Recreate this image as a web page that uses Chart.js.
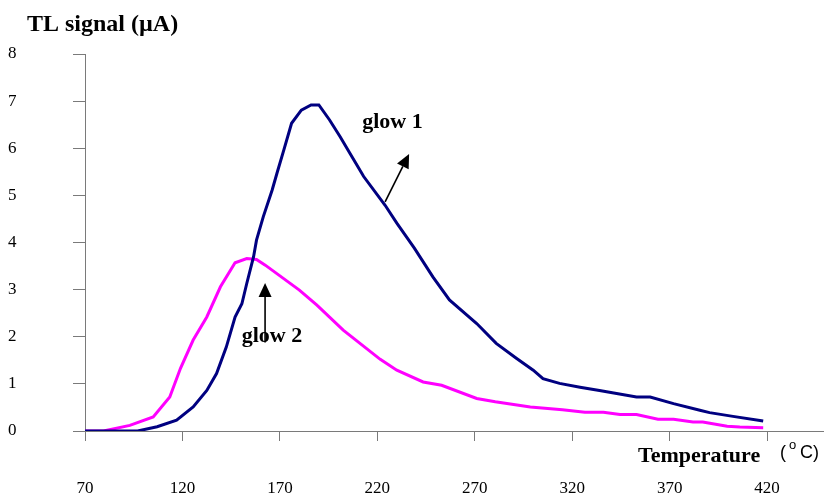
<!DOCTYPE html>
<html>
<head>
<meta charset="utf-8">
<script src="https://cdn.jsdelivr.net/npm/chart.js@4.4.1/dist/chart.umd.min.js"></script>
<style>
  html, body { margin: 0; padding: 0; background: #fff; }
  #wrap { width: 824px; height: 496px; position: relative; }
</style>
</head>
<body>
<div id="wrap"><canvas id="tl"></canvas></div>
<script>
// temperatures (°C) and TL signal (µA)
const TEMP_GLOW1 = [70, 85, 97, 107, 117, 125.5, 132.5, 137.5, 142.5, 147, 150.5, 153, 156.5, 158, 161.5,
  166, 168.5, 172, 176, 181, 186, 190, 195.5, 201, 206, 213, 224, 230, 239, 248.5, 257, 271, 281,
  291.5, 300, 305, 313.5, 324, 334, 353, 360, 372, 385.5, 390.5, 402.5, 418];
const SIGNAL_GLOW1 = [0, 0, 0, 0.09, 0.23, 0.51, 0.86, 1.22, 1.78, 2.42, 2.70, 3.13, 3.70, 4.05, 4.55,
  5.11, 5.47, 5.96, 6.53, 6.81, 6.92, 6.92, 6.60, 6.24, 5.89, 5.40, 4.79, 4.41, 3.88, 3.27, 2.78, 2.28, 1.86,
  1.54, 1.29, 1.11, 1.01, 0.93, 0.86, 0.72, 0.72, 0.58, 0.44, 0.39, 0.31, 0.21];

const TEMP_GLOW2 = [70, 79.5, 93, 105, 113.5, 119, 125.5, 132.5, 139.5, 147, 153, 158, 162.5, 180, 189,
  202.5, 221.5, 230, 243.5, 253, 271, 280.5, 298.5, 315, 326.5, 336, 344.5, 353, 364, 372, 382, 387,
  399.5, 406, 418];
const SIGNAL_GLOW2 = [0, 0, 0.12, 0.30, 0.72, 1.33, 1.93, 2.42, 3.06, 3.57, 3.66, 3.64, 3.52, 2.99, 2.67,
  2.14, 1.52, 1.29, 1.04, 0.97, 0.69, 0.62, 0.51, 0.45, 0.40, 0.40, 0.35, 0.35, 0.25, 0.25, 0.19, 0.19,
  0.10, 0.085, 0.07];

const X_TICKS = [70, 120, 170, 220, 270, 320, 370, 420];
const Y_TICKS = [0, 1, 2, 3, 4, 5, 6, 7, 8];

const SERIF = "'Liberation Serif', 'Times New Roman', serif";
const SANS = "'Liberation Sans', Arial, sans-serif";
const AXIS_GREY = '#7a7a7a';

const toPoints = (xs, ys) => xs.map((x, i) => ({ x, y: ys[i] }));

// arrow: from a point on the curve toward the label, in data units
const ARROWS = [
  { from: [224, 4.86], to: [236.3, 5.88] },
  { from: [162.4, 1.88], to: [162.4, 3.14] },
];
const LABELS = [
  { text: 'glow 1', at: [212.2, 6.56] },
  { text: 'glow 2', at: [150.4, 2.0] },
];

const annotations = {
  id: 'annotations',
  afterDraw(chart) {
    const { ctx, scales: { x, y } } = chart;
    ctx.save();
    ctx.fillStyle = '#000';
    ctx.strokeStyle = '#000';

    // title & axis captions
    ctx.textBaseline = 'alphabetic';
    ctx.textAlign = 'left';
    ctx.font = `bold 24px ${SERIF}`;
    ctx.fillText('TL signal (µA)', 27, 31);
    ctx.font = `bold 22px ${SERIF}`;
    ctx.fillText('Temperature', 638, 462);
    ctx.font = `18px ${SANS}`;
    ctx.fillText('(', 780, 458);
    ctx.fillText('C)', 800, 458);
    ctx.font = `13px ${SANS}`;
    ctx.fillText('o', 789, 449);

    // glow labels
    ctx.font = `bold 22px ${SERIF}`;
    ctx.textBaseline = 'middle';
    for (const l of LABELS) {
      ctx.fillText(l.text, x.getPixelForValue(l.at[0]), y.getPixelForValue(l.at[1]));
    }

    // arrows
    ctx.lineWidth = 1.6;
    for (const a of ARROWS) {
      const x1 = x.getPixelForValue(a.from[0]), y1 = y.getPixelForValue(a.from[1]);
      const x2 = x.getPixelForValue(a.to[0]), y2 = y.getPixelForValue(a.to[1]);
      const ang = Math.atan2(y2 - y1, x2 - x1);
      const head = 14, half = 6.5;
      const bx = x2 - head * Math.cos(ang), by = y2 - head * Math.sin(ang);
      ctx.beginPath();
      ctx.moveTo(x1, y1);
      ctx.lineTo(bx, by);
      ctx.stroke();
      ctx.beginPath();
      ctx.moveTo(x2, y2);
      ctx.lineTo(bx + half * Math.sin(ang), by - half * Math.cos(ang));
      ctx.lineTo(bx - half * Math.sin(ang), by + half * Math.cos(ang));
      ctx.closePath();
      ctx.fill();
    }
    ctx.restore();
  },
};

new Chart(document.getElementById('tl'), {
  type: 'line',
  data: {
    datasets: [
      {
        label: 'glow 1',
        data: toPoints(TEMP_GLOW1, SIGNAL_GLOW1),
        borderColor: '#000080',
        borderWidth: 3,
        pointRadius: 0,
        tension: 0,
      },
      {
        label: 'glow 2',
        data: toPoints(TEMP_GLOW2, SIGNAL_GLOW2),
        borderColor: '#ff00ff',
        borderWidth: 3,
        pointRadius: 0,
        tension: 0,
      },
    ],
  },
  options: {
    responsive: true,
    maintainAspectRatio: false,
    animation: false,
    layout: { padding: { top: 54, right: 0, left: 8, bottom: 0 } },
    plugins: {
      legend: { display: false },
      tooltip: { enabled: false },
    },
    scales: {
      x: {
        type: 'linear',
        min: 70,
        max: 449.2,
        afterBuildTicks: (s) => { s.ticks = X_TICKS.map((v) => ({ value: v })); },
        afterFit: (s) => { s.height = 65; },
        grid: { drawOnChartArea: false, tickLength: 10, color: AXIS_GREY },
        border: { color: AXIS_GREY, width: 1 },
        ticks: {
          padding: 37,
          maxRotation: 0,
          autoSkip: false,
          color: '#000',
          font: { family: SERIF, size: 17 },
        },
      },
      y: {
        min: 0,
        max: 8,
        afterBuildTicks: (s) => { s.ticks = Y_TICKS.map((v) => ({ value: v })); },
        afterFit: (s) => { s.width = 77; },
        grid: { drawOnChartArea: false, tickLength: 12, color: AXIS_GREY },
        border: { color: AXIS_GREY, width: 1 },
        ticks: {
          padding: 4,
          crossAlign: 'far',
          color: '#000',
          font: { family: SERIF, size: 17 },
        },
      },
    },
  },
  plugins: [annotations],
});
</script>
</body>
</html>
